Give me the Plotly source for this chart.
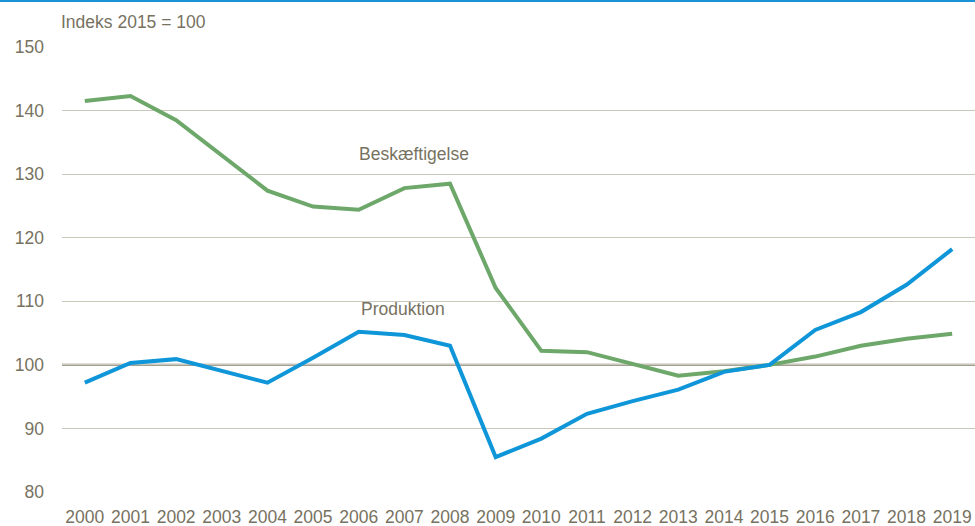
import plotly.graph_objects as go

years = list(range(2000, 2020))
beskaeftigelse = [141.5, 142.3, 138.5, 132.9, 127.4, 124.9, 124.4, 127.8, 128.5, 112.1,
                  102.2, 102.0, 100.2, 98.3, 99.0, 100.0, 101.3, 103.0, 104.1, 104.9]
produktion = [97.2, 100.3, 100.9, 99.0, 97.2, 101.1, 105.2, 104.7, 103.0, 85.5,
              88.4, 92.3, 94.3, 96.1, 98.9, 100.0, 105.5, 108.3, 112.6, 118.2]
y_ticks = [80, 90, 100, 110, 120, 130, 140, 150]

FONT = "Liberation Sans, Arial, sans-serif"
TXT = "#77725F"
GREEN = "#6DA86A"
BLUE = "#0F96D9"
FS = 17.5

fig = go.Figure()
fig.add_trace(go.Scatter(x=years, y=beskaeftigelse, mode="lines", name="Beskæftigelse",
                         line=dict(color=GREEN, width=4)))
fig.add_trace(go.Scatter(x=years, y=produktion, mode="lines", name="Produktion",
                         line=dict(color=BLUE, width=4)))

fig.update_layout(
    width=975, height=526,
    margin=dict(l=62, r=0, t=47, b=34, autoexpand=False),
    paper_bgcolor="white", plot_bgcolor="white",
    showlegend=False,
    font=dict(family=FONT, size=FS, color=TXT),
    xaxis=dict(range=[1999.5, 2019.5], tickmode="array", tickvals=years,
               ticktext=[str(y) for y in years], showgrid=False, zeroline=False,
               showline=False, ticks="", tickangle=0, automargin=False,
               ticklabelstandoff=12, tickfont=dict(size=FS, color=TXT)),
    yaxis=dict(range=[80, 150], tickmode="array", tickvals=y_ticks,
               showgrid=True, gridcolor="#C9C7B9", gridwidth=1, zeroline=False,
               showline=False, ticks="", ticklabelstandoff=17, automargin=False,
               tickfont=dict(size=FS, color=TXT)),
    shapes=[
        dict(type="line", xref="paper", yref="y", x0=0, x1=1, y0=100, y1=100,
             line=dict(color="#85806F", width=2), layer="below"),
    ],
    annotations=[
        dict(text="Indeks 2015 = 100", xref="paper", yref="paper", x=-0.003, y=1,
             xanchor="left", yanchor="middle", yshift=25, showarrow=False,
             font=dict(size=FS, color=TXT)),
        dict(text="Beskæftigelse", x=2007.21, y=133.2, xanchor="center", yanchor="middle",
             showarrow=False, font=dict(size=FS, color=TXT)),
        dict(text="Produktion", x=2006.97, y=108.8, xanchor="center", yanchor="middle",
             showarrow=False, font=dict(size=FS, color=TXT)),
    ],
)
# top blue rule
fig.add_shape(type="rect", xref="paper", yref="paper", x0=-62/913, x1=1, y0=1 + 45/445, y1=1 + 47/445,
              fillcolor="#1A92D6", line=dict(width=0))

fig.write_html("out.html", config={"displayModeBar": False},
               post_script="document.body.style.margin='0';document.body.style.overflow='hidden';")
